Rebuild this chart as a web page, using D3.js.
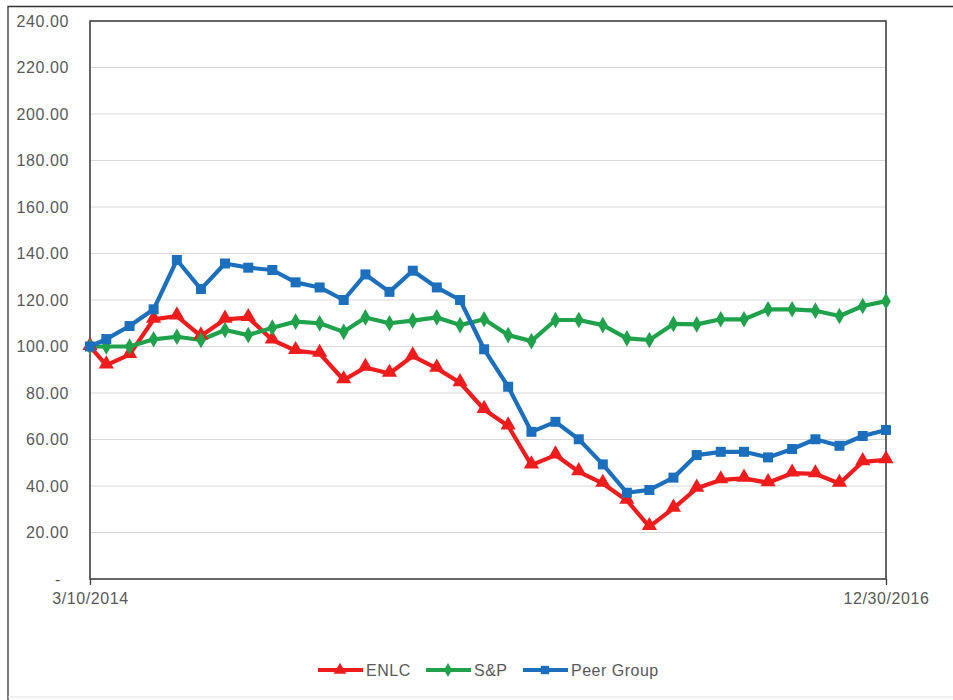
<!DOCTYPE html>
<html>
<head>
<meta charset="utf-8">
<script src="https://cdn.jsdelivr.net/npm/d3@7/dist/d3.min.js"></script>
<style>
  html, body { margin: 0; padding: 0; background: #fff; }
  svg { display: block; }
  text { font-family: "Liberation Sans", Arial, "DejaVu Sans", sans-serif; letter-spacing: 0.5px; }
</style>
</head>
<body>
<svg id="chart" width="953" height="700"></svg>
<script>
// ---- data ----
const dates = [
  "2014-03-10","2014-03-31","2014-04-30","2014-05-31","2014-06-30","2014-07-31","2014-08-31","2014-09-30","2014-10-31","2014-11-30","2014-12-31",
  "2015-01-31","2015-02-28","2015-03-31","2015-04-30","2015-05-31","2015-06-30","2015-07-31","2015-08-31","2015-09-30","2015-10-31","2015-11-30","2015-12-31",
  "2016-01-31","2016-02-29","2016-03-31","2016-04-30","2016-05-31","2016-06-30","2016-07-31","2016-08-31","2016-09-30","2016-10-31","2016-11-30","2016-12-30"
];
const enlc = [100, 92, 96.5, 111.7, 113.1, 104.5, 111.7, 112.4, 102.8, 98.2, 97, 85.6, 91, 88.4, 95.9, 90.6, 84.4, 72.9, 65.8, 49, 53.3, 46.1, 41.1, 33.8, 22.5, 30.4, 39, 42.6, 43.3, 41.4, 45.5, 45.2, 41.1, 50.4, 51.2];
const sp = [100, 100, 100, 103.1, 104.2, 102.8, 107.1, 104.9, 108.1, 110.7, 110, 106.3, 112.5, 110, 111.1, 112.5, 109.2, 111.7, 104.9, 102.3, 111.4, 111.4, 109.2, 103.5, 102.8, 109.7, 109.5, 111.7, 111.7, 116, 116, 115.4, 113.1, 117.4, 119.5];
const peer = [100, 103.2, 108.8, 116, 137.2, 124.7, 135.7, 133.9, 132.9, 127.6, 125.4, 120, 131, 123.5, 132.6, 125.4, 120, 98.8, 82.7, 63.3, 67.6, 60.1, 49.3, 37.1, 38.3, 43.6, 53.3, 54.7, 54.7, 52.3, 55.9, 60.1, 57.3, 61.5, 64.1];
const yTicks = [0, 20, 40, 60, 80, 100, 120, 140, 160, 180, 200, 220, 240];
const xTickLabels = ["3/10/2014", "12/30/2016"];
const seriesNames = ["ENLC", "S&P", "Peer Group"];

// ---- build ----
const parse = d3.timeParse("%Y-%m-%d");
const dts = dates.map(parse);
const series = [
  { name: seriesNames[0], values: enlc, color: "#ee1c1c", shape: d3.symbolTriangle, size: 100 },
  { name: seriesNames[1], values: sp,   color: "#1fa24b", shape: d3.symbolDiamond,  size: 80 },
  { name: seriesNames[2], values: peer, color: "#1b6fbd", shape: d3.symbolSquare,   size: 100 }
];

const svg = d3.select("#chart");
const L = 90, R = 886, T = 21, B = 579;
const FS = 16;

// outer frame
svg.append("path").attr("d", "M8,700 L8,6.5 L953,6.5").attr("fill", "none").attr("stroke", "#333").attr("stroke-width", 1.3);
svg.append("line").attr("x1", 8).attr("x2", 953).attr("y1", 697).attr("y2", 697).attr("stroke", "#e3e3e3");

const x = d3.scaleTime().domain([dts[0], dts[dts.length - 1]]).range([L, R]);
const y = d3.scaleLinear().domain([0, 240]).range([B, T]);

// gridlines
svg.append("g").selectAll("line").data(yTicks.filter(v => v > 0 && v < 240)).join("line")
  .attr("x1", L).attr("x2", R).attr("y1", d => y(d)).attr("y2", d => y(d))
  .attr("stroke", "#d9d9d9").attr("stroke-width", 1);

// y axis labels
const yAxis = d3.axisLeft(y).tickValues(yTicks).tickSize(0).tickPadding(21)
  .tickFormat(d => d === 0 ? "-" : d3.format(".2f")(d));
const gy = svg.append("g").attr("transform", `translate(${L},0)`).call(yAxis);
gy.select(".domain").remove();
gy.selectAll("text").attr("fill", "#595959").attr("font-size", FS);
gy.selectAll(".tick").filter(d => d === 0).select("text").attr("dx", -8);

// x axis
const xAxis = d3.axisBottom(x).tickValues([dts[0], dts[dts.length - 1]]).tickSize(6).tickPadding(8)
  .tickFormat((d, i) => xTickLabels[i]);
const gx = svg.append("g").attr("transform", `translate(0,${B})`).call(xAxis);
gx.select(".domain").remove();
gx.selectAll("line").attr("stroke", "#404040").attr("stroke-width", 1.3);
gx.selectAll("text").attr("fill", "#595959").attr("font-size", FS);
d3.select("#chart").selectAll(".tick text").style("letter-spacing", "0.6px");
d3.select("#chart").selectAll("g[font-family]").attr("font-family", null);

// plot frame
svg.append("rect").attr("x", L).attr("y", T).attr("width", R - L).attr("height", B - T)
  .attr("fill", "none").attr("stroke", "#404040").attr("stroke-width", 1.6);

// lines
const line = d3.line().x((d, i) => x(dts[i])).y(d => y(d));
series.forEach(s => {
  svg.append("path").datum(s.values).attr("d", line)
    .attr("fill", "none").attr("stroke", s.color).attr("stroke-width", 4.2).attr("stroke-linejoin", "round");
});
series.forEach(s => {
  svg.append("g").selectAll("path").data(s.values).join("path")
    .attr("d", d3.symbol().type(s.shape).size(s.size))
    .attr("transform", (d, i) => `translate(${x(dts[i])},${y(d) + (s.shape === d3.symbolTriangle ? -1 : 0)})`)
    .attr("fill", s.color);
});

// legend
const legendX = [318, 426, 523];
const lg = svg.append("g").attr("transform", "translate(0,670)");
series.forEach((s, i) => {
  const g = lg.append("g").attr("transform", `translate(${legendX[i]},0)`);
  g.append("line").attr("x1", 0).attr("x2", 45).attr("y1", 0).attr("y2", 0)
    .attr("stroke", s.color).attr("stroke-width", 4);
  g.append("path").attr("d", d3.symbol().type(s.shape).size(s.size * 0.7)).attr("transform", "translate(22,0)").attr("fill", s.color);
  g.append("text").attr("x", 48).attr("y", 6).attr("fill", "#595959").attr("font-size", FS).text(s.name);
});
</script>
</body>
</html>
